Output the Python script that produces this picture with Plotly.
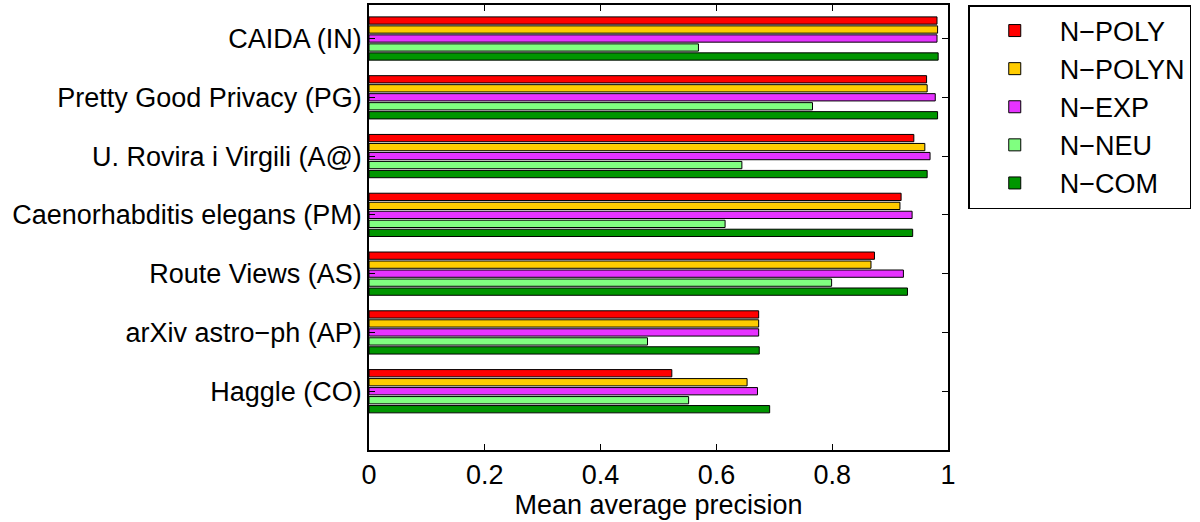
import plotly.graph_objects as go

categories = ["Haggle (CO)", "arXiv astro\u2212ph (AP)", "Route Views (AS)",
              "Caenorhabditis elegans (PM)", "U. Rovira i Virgili (A@)",
              "Pretty Good Privacy (PG)", "CAIDA (IN)"]
cat_pos = [1, 2, 3, 4, 5, 6, 7]

series_names = ["N\u2212POLY", "N\u2212POLYN", "N\u2212EXP", "N\u2212NEU", "N\u2212COM"]
n_poly  = [0.523, 0.673, 0.873, 0.919, 0.941, 0.963, 0.981]
n_polyn = [0.653, 0.673, 0.867, 0.917, 0.960, 0.964, 0.982]
n_exp   = [0.671, 0.673, 0.923, 0.938, 0.969, 0.978, 0.981]
n_neu   = [0.552, 0.481, 0.799, 0.615, 0.644, 0.766, 0.569]
n_com   = [0.692, 0.674, 0.930, 0.939, 0.964, 0.982, 0.983]
colors = ["#FF0000", "#FFCC00", "#E633FF", "#80FF80", "#009600"]

x_ticks = [0, 0.2, 0.4, 0.6, 0.8, 1]
x_ticklabels = ["0", "0.2", "0.4", "0.6", "0.8", "1"]

values = [n_poly, n_polyn, n_exp, n_neu, n_com]

fig = go.Figure()
# add in reverse so N-POLY is at top of each group
for name, vals, col in reversed(list(zip(series_names, values, colors))):
    fig.add_trace(go.Bar(
        y=cat_pos, x=vals, name=name, orientation="h",
        marker=dict(color=col, line=dict(color="black", width=1)),
    ))

font = "Liberation Sans, Arial, Helvetica, sans-serif"
fig.update_layout(
    width=1200, height=522,
    barmode="group", bargap=0.235, bargroupgap=0.19,
    plot_bgcolor="white", paper_bgcolor="white",
    margin=dict(l=369, r=252, t=5, b=72, autoexpand=False),
    font=dict(family=font, size=27, color="black"),
    legend=dict(
        traceorder="reversed", x=1.035, y=1, xanchor="left", yanchor="top",
        bordercolor="black", borderwidth=1.5, font=dict(size=27),
        bgcolor="white", itemwidth=80, tracegroupgap=0,
    ),
    xaxis=dict(
        range=[0, 1], tickvals=x_ticks, ticktext=x_ticklabels,
        ticks="inside", ticklen=6, tickcolor="black", mirror="ticks",
        showline=True, linecolor="black", linewidth=1.5, showgrid=False,
        zeroline=False, automargin=False,
        title=dict(text="Mean average precision", standoff=2, font=dict(size=27)),
        tickfont=dict(size=27),
    ),
    yaxis=dict(
        range=[0, 7.57], tickvals=cat_pos, ticktext=categories,
        ticks="inside", ticklen=6, tickcolor="black", mirror="ticks",
        showline=True, linecolor="black", linewidth=1.5, showgrid=False,
        zeroline=False, automargin=False, tickfont=dict(size=27),
    ),
)

fig.write_html("out.html", config={"displayModeBar": False},
               post_script="document.body.style.margin='0';")
